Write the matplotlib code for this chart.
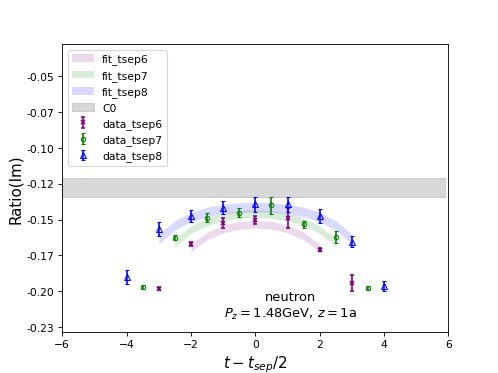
import numpy as np
import matplotlib
matplotlib.use("Agg")
import matplotlib.pyplot as plt
from matplotlib.ticker import FormatStrFormatter

# ── data points ───────────────────────────────────────────────────────────
t6 = [-3, -2, -1, 0, 1, 2, 3]
r6 = [-0.1982, -0.1668, -0.1524, -0.1504, -0.1492, -0.1710, -0.1945]
e6 = [0.0012, 0.0014, 0.0037, 0.0030, 0.0070, 0.0012, 0.0055]

t7 = [-3.5, -2.5, -1.5, -0.5, 0.5, 1.5, 2.5, 3.5]
r7 = [-0.1968, -0.1626, -0.1487, -0.1452, -0.1401, -0.1534, -0.1622, -0.1975]
e7 = [0.0014, 0.0020, 0.0030, 0.0033, 0.0058, 0.0026, 0.0040, 0.0014]

t8 = [-4, -3, -2, -1, 0, 1, 2, 3, 4]
r8 = [-0.1901, -0.1566, -0.1476, -0.1417, -0.1394, -0.1394, -0.1476, -0.1654, -0.1964]
e8 = [0.0046, 0.0052, 0.0044, 0.0046, 0.0050, 0.0053, 0.0050, 0.0040, 0.0038]

# ── fit bands (centre and half width) ─────────────────────────────────────
ft6 = [-2, -1.5, -1, -0.5, 0, 0.5, 1, 1.5, 2]
fc6 = [-0.1700, -0.1615, -0.1566, -0.1540, -0.1532, -0.1540, -0.1566, -0.1615, -0.1700]
fe6 = 0.0027

ft7 = [-2.5, -2, -1.5, -1, -0.5, 0, 0.5, 1, 1.5, 2, 2.5]
fc7 = [-0.1663, -0.1571, -0.1515, -0.1482, -0.1465, -0.1460, -0.1465, -0.1482, -0.1515, -0.1571, -0.1663]
fe7 = 0.0027

ft8 = [-3, -2.5, -2, -1.5, -1, -0.5, 0, 0.5, 1, 1.5, 2, 2.5, 3]
fc8 = [-0.1636, -0.1541, -0.1483, -0.1447, -0.1426, -0.1416, -0.1412, -0.1416, -0.1426, -0.1447, -0.1483, -0.1541, -0.1636]
fe8 = 0.0033

c0_mean, c0_err = -0.1278, 0.0065

yticks = [-0.225, -0.2, -0.175, -0.15, -0.125, -0.1, -0.075, -0.05]

fig, ax = plt.subplots(figsize=(6.4, 4.8), dpi=77.85)

for ft, fc, fe, col, lab in [(ft6, fc6, fe6, 'purple', 'fit_tsep6'),
                             (ft7, fc7, fe7, 'green', 'fit_tsep7'),
                             (ft8, fc8, fe8, 'blue', 'fit_tsep8')]:
    fc = np.array(fc)
    ax.fill_between(ft, fc - fe, fc + fe, color=col, alpha=0.15, lw=0, label=lab)

xc = np.arange(-6, 6, 0.1)
ax.fill_between(xc, c0_mean - c0_err, c0_mean + c0_err, color='grey', alpha=0.3, label='C0')

ax.errorbar(t6, r6, yerr=e6, fmt='x', color='purple', ms=4, mew=1.5, capsize=2, label='data_tsep6')
ax.errorbar(t7, r7, yerr=e7, fmt='o', color='green', mfc='none', ms=4, capsize=2, label='data_tsep7')
ax.errorbar(t8, r8, yerr=e8, fmt='^', color='blue', mfc='none', ms=5, capsize=2, label='data_tsep8')

ax.text(0.59, 0.09, 'neutron\n$P_z = 1.48$GeV, $z = 1$a', transform=ax.transAxes,
        ha='center', va='center', fontsize=12, linespacing=1.3)

ax.set_xlim(-6, 6)
ax.set_ylim(-0.2285, -0.0275)
ax.set_yticks(yticks)
ax.yaxis.set_major_formatter(FormatStrFormatter('%.2f'))
ax.set_xlabel('$t - t_{sep}/2$', fontsize=14)
ax.set_ylabel('Ratio(Im)', fontsize=14)
ax.legend(loc='upper left')

fig.savefig('out.png', dpi=77.85)
